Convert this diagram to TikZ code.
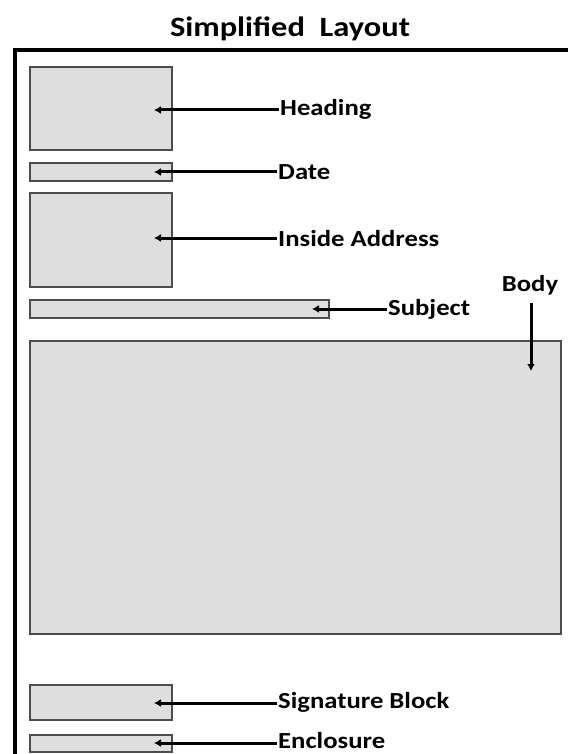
\documentclass[tikz,border=0pt]{standalone}
\usepackage{fontspec}
\setmainfont{Carlito}[FakeStretch=1.16]
\usetikzlibrary{arrows.meta}
\begin{document}
\begin{tikzpicture}[x=1pt,y=-1pt,
  part/.style={draw=black!70,line width=1.5pt,fill=black!13},
  lbl/.style={font=\bfseries\fontsize{23}{26}\selectfont,anchor=west,inner sep=0pt},
  ptr/.style={line width=3pt,-{Latex[length=7pt,width=8pt]}}]
\useasboundingbox (0,0) rectangle (567,754);
\node[font=\bfseries\fontsize{28}{30}\selectfont,inner sep=0pt] (title) at (290,29) {Simplified\ \ Layout};
\draw[line width=3.4pt] (15,756) -- (15,50) -- (570,50);
\path[part] (30,67) rectangle (172,150);
\path[part] (30,163) rectangle (172,181);
\path[part] (30,193) rectangle (172,287);
\path[part] (30,300) rectangle (329,318);
\path[part] (30,341) rectangle (561,634);
\path[part] (30,685) rectangle (172,720);
\path[part] (30,735) rectangle (172,752);
\node[lbl] (h) at (280,109) {Heading};
\node[lbl] (d) at (278,172) {Date};
\node[lbl] (ia) at (278,239) {Inside Address};
\node[lbl] (s) at (388,309) {Subject};
\node[lbl,anchor=south] (b) at (530,295) {Body};
\node[lbl] (sb) at (278,702) {Signature Block};
\node[lbl] (e) at (278,741) {Enclosure};
\coordinate (ph) at (154,110);
\coordinate (pd) at (154,172);
\coordinate (pia) at (154,238);
\coordinate (ps) at (312,309);
\coordinate (pb) at (531,371);
\coordinate (psb) at (154,703);
\coordinate (pe) at (154,743);
\draw[ptr] (h.west) ++(-1,1) -- (ph);
\draw[ptr] (d.west) ++(-1,0) -- (pd);
\draw[ptr] (ia.west) ++(-1,-1) -- (pia);
\draw[ptr] (s.west) ++(-1,0) -- (ps);
\draw[ptr] (b.south) ++(1,8) -- (pb);
\draw[ptr] (sb.west) ++(-1,1) -- (psb);
\draw[ptr] (e.west) ++(-1,2) -- (pe);
\end{tikzpicture}
\end{document}
